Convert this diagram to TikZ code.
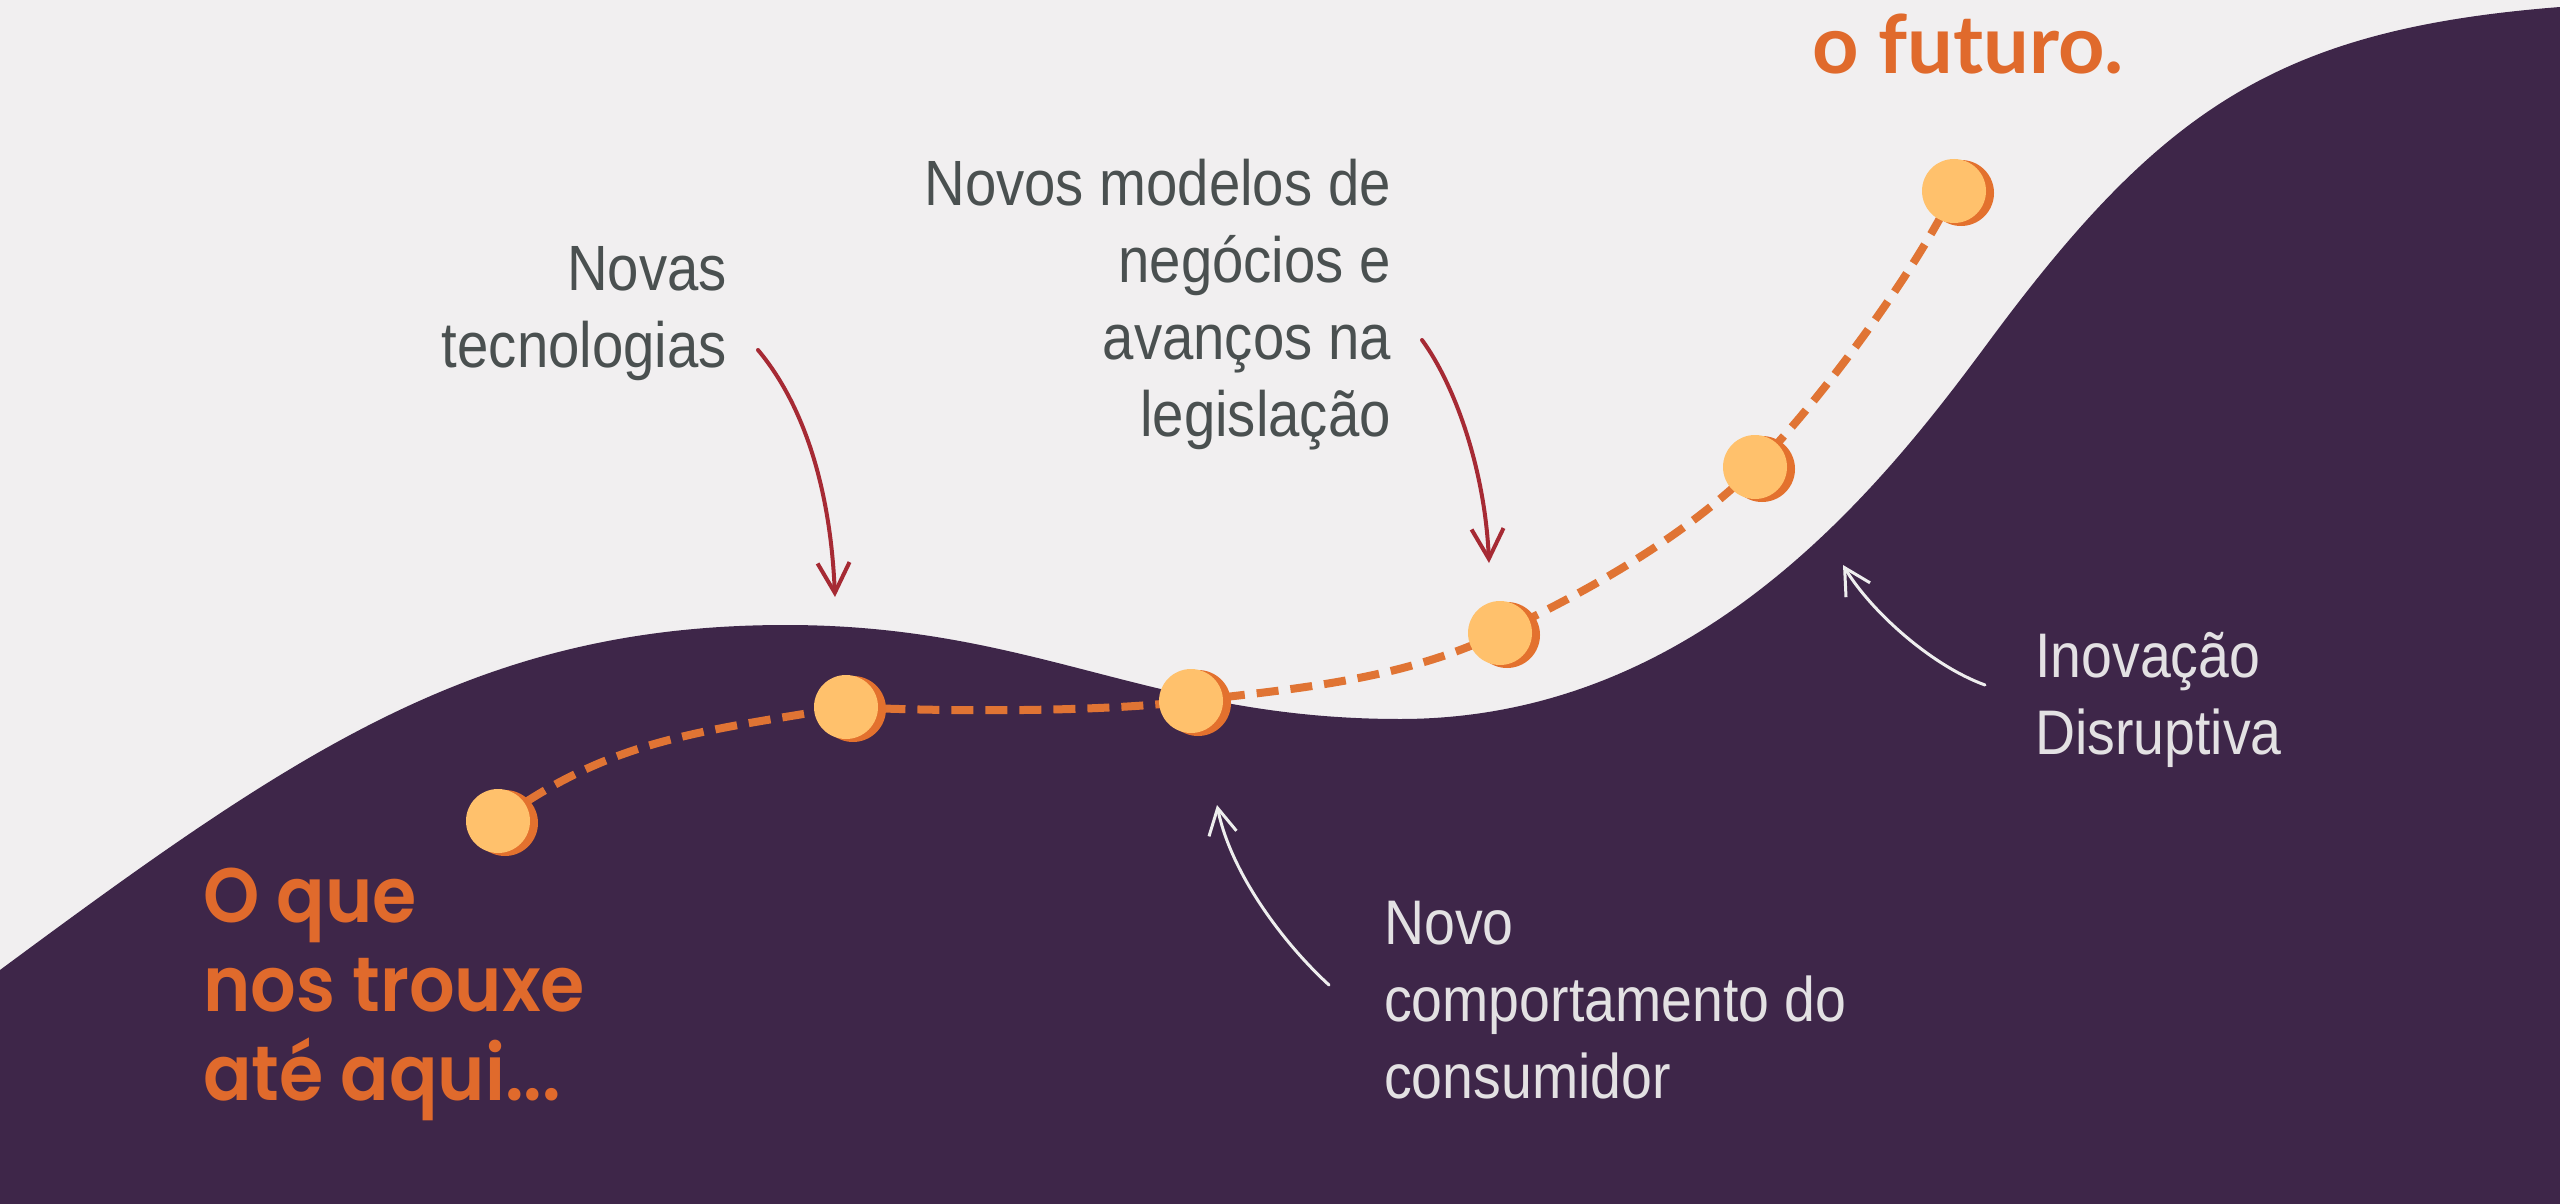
\documentclass[tikz,border=0pt]{standalone}
\usepackage{fontspec}
\usetikzlibrary{arrows.meta}
\newfontfamily\condfont[FakeStretch=0.88]{Liberation Sans}
\newfontfamily\headfont{Poppins}[UprightFont=* SemiBold, FakeStretch=0.93]
\newfontfamily\futfont{Lato}[UprightFont=* Bold]
\definecolor{bgcol}{HTML}{F1EFF0}
\definecolor{hillcol}{HTML}{3E2649}
\definecolor{txtgray}{HTML}{4A5050}
\definecolor{txtlight}{HTML}{E3E1E3}
\definecolor{orangetxt}{HTML}{E06A2C}
\definecolor{dotfill}{HTML}{FFC16C}
\definecolor{dotshade}{HTML}{E3712E}
\definecolor{dashcol}{HTML}{E07434}
\definecolor{arrowred}{HTML}{A62A34}
\definecolor{arrowwhite}{HTML}{EEEEEE}
\begin{document}
\begin{tikzpicture}[x=1pt,y=-1pt,
  graytxt/.style={text=txtgray, font=\condfont\fontsize{64}{77}\selectfont, inner sep=0pt, align=right},
  lighttxt/.style={text=txtlight, font=\condfont\fontsize{63}{77}\selectfont, inner sep=0pt, align=left},
  headtxt/.style={text=orangetxt, font=\headfont\fontsize{77}{89}\selectfont, inner sep=0pt, align=left},
  dotfront/.style={circle, fill=dotfill, minimum size=64pt, inner sep=0pt},
  dotback/.style={circle, fill=dotshade, minimum size=66pt, inner sep=0pt},
  dashline/.style={draw=dashcol, line width=8pt, dash pattern=on 22pt off 12pt},
  redarrow/.style={draw=arrowred, line width=4pt, line cap=round, -{Straight Barb[length=30pt,width=32pt]}},
  whitearrow/.style={draw=arrowwhite, line width=3pt, line cap=round, -{Straight Barb[length=26pt,width=28pt]}}
]
\useasboundingbox (0,0) rectangle (2560,1204);
\fill[bgcol] (0,0) rectangle (2560,1204);
% hill
\fill[hillcol] (-10,977) -- (0,970) .. controls (300,748) and (480,625) .. (786,625)
  .. controls (1036,625) and (1150,719) .. (1400,719)
  .. controls (1700,719) and (1883,485) .. (1990,340)
  .. controls (2162.5,107) and (2280,29) .. (2560,7)
  -- (2570,6) -- (2570,1210) -- (-10,1210) -- cycle;
% dot positions
\coordinate (p1) at (498,821);
\coordinate (p2) at (846,707);
\coordinate (p3) at (1191,701);
\coordinate (p4) at (1500,633);
\coordinate (p5) at (1755,467);
\coordinate (p6) at (1954,191);
% dashed path
\draw[dashline] (p1) .. controls (610,740) and (696,732) .. (p2)
  .. controls (950,712) and (1100,712) .. (p3)
  .. controls (1291,689) and (1400,681) .. (p4)
  .. controls (1590,590) and (1685,537) .. (p5)
  .. controls (1815,407) and (1914,275) .. (p6);
% dots
\foreach \i in {1,...,6}{
  \node[dotback] (s\i) at ([shift={(7,2)}]p\i) {};
  \node[dotfront] (d\i) at (p\i) {};
}
% texts
\node[graytxt, anchor=north east] (novas) at (727,246) {Novas\\tecnologias};
\node[graytxt, anchor=north east] (modelos) at (1391,159) {Novos modelos de\\negócios e\\avanços na\\legislação};
\node[lighttxt, anchor=north west] (inov) at (2035,632) {Inovação\\Disruptiva};
\node[lighttxt, anchor=north west] (novo) at (1384,901) {Novo\\comportamento do\\consumidor};
\node[headtxt, anchor=north west] (oque) at (203,868) {O que\\nos trouxe\\até aqui...};
\node[text=orangetxt, font=\futfont\fontsize{81}{90}\selectfont, inner sep=0pt, anchor=base west] (futuro) at (1812,74) {o futuro.};
% arrows
\coordinate (a1s) at (758,350);
\coordinate (a1e) at (835,597);
\draw[redarrow] (a1s) .. controls (800,400) and (830,480) .. (a1e);
\coordinate (a2s) at (1422,340);
\coordinate (a2e) at (1489,563);
\draw[redarrow] (a2s) .. controls (1455,385) and (1485,470) .. (a2e);
\coordinate (a3s) at (1985,685);
\coordinate (a3e) at (1843,565);
\draw[whitearrow] (a3s) .. controls (1930,665) and (1870,610) .. (a3e);
\coordinate (a4s) at (1329,985);
\coordinate (a4e) at (1217,805);
\draw[whitearrow] (a4s) .. controls (1280,940) and (1230,870) .. (a4e);
\end{tikzpicture}
\end{document}
